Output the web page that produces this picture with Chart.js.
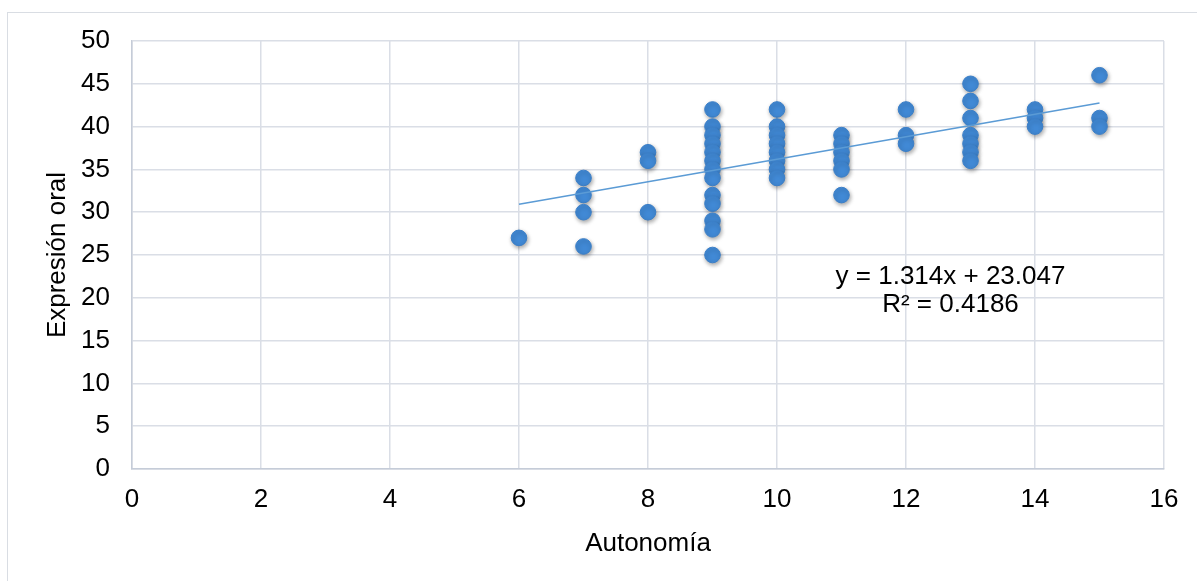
<!DOCTYPE html>
<html>
<head>
<meta charset="utf-8">
<script src="https://cdn.jsdelivr.net/npm/chart.js@4.4.1/dist/chart.umd.min.js"></script>
<style>
  html, body { margin: 0; padding: 0; background: #fff; }
  #wrap { position: relative; width: 1197px; height: 581px; overflow: hidden; }
  #frame { position: absolute; left: 7px; top: 12px; width: 1200px; height: 600px; border: 1px solid #d9dde3; }
  canvas { position: absolute; left: 0; top: 0; }
</style>
</head>
<body>
<div id="wrap">
  <div id="frame"></div>
  <canvas id="chart" width="1197" height="581"></canvas>
</div>
<script>
// Autonomía (x) vs Expresión oral (y)
const autonomia = [
  6,
  7, 7, 7, 7,
  8, 8, 8,
  9, 9, 9, 9, 9, 9, 9, 9, 9, 9, 9, 9, 9,
  10, 10, 10, 10, 10, 10, 10, 10,
  11, 11, 11, 11, 11, 11,
  12, 12, 12,
  13, 13, 13, 13, 13, 13, 13,
  14, 14, 14,
  15, 15, 15
];
const expresion = [
  27,
  34, 32, 30, 26,
  37, 36, 30,
  42, 40, 39, 38, 37, 36, 35, 34, 32, 31, 29, 28, 25,
  42, 40, 39, 38, 37, 36, 35, 34,
  39, 38, 37, 36, 35, 32,
  42, 39, 38,
  45, 43, 41, 39, 38, 37, 36,
  42, 41, 40,
  46, 41, 40
];

// linear trend line end points (x = 6 and x = 15)
const trendX = [6, 15];
const trendY = [30.93, 42.76];
const trendLabel = ['y = 1.314x + 23.047', 'R² = 0.4186'];

const xTicks = [0, 2, 4, 6, 8, 10, 12, 14, 16];
const yTicks = [0, 5, 10, 15, 20, 25, 30, 35, 40, 45, 50];

const FONT = 'Liberation Sans, Arial, sans-serif';

const points = autonomia.map((x, i) => ({ x: x, y: expresion[i] }));
const trend = trendX.map((x, i) => ({ x: x, y: trendY[i] }));

// soft drop shadow under the markers
const markerShadow = {
  id: 'markerShadow',
  beforeDatasetDraw(chart, args) {
    if (args.index !== 1) return;
    const ctx = chart.ctx;
    ctx.save();
    ctx.shadowColor = 'rgba(0,0,0,0.35)';
    ctx.shadowBlur = 4;
    ctx.shadowOffsetX = 1;
    ctx.shadowOffsetY = 2;
  },
  afterDatasetDraw(chart, args) {
    if (args.index !== 1) return;
    chart.ctx.restore();
  }
};

// equation label near the trend line
const eqLabel = {
  id: 'eqLabel',
  afterDatasetsDraw(chart) {
    const ctx = chart.ctx;
    const xs = chart.scales.x, ys = chart.scales.y;
    const cx = xs.getPixelForValue(12.69);
    const cy = ys.getPixelForValue(22.4);
    ctx.save();
    ctx.fillStyle = '#000';
    ctx.font = '26px ' + FONT;
    ctx.textAlign = 'center';
    ctx.textBaseline = 'middle';
    trendLabel.forEach((t, i) => ctx.fillText(t, cx, cy + i * 28));
    ctx.restore();
  }
};

new Chart(document.getElementById('chart'), {
  type: 'scatter',
  data: {
    datasets: [
      {
        type: 'line',
        label: 'Tendencia',
        data: trend,
        borderColor: '#5b9bd5',
        borderWidth: 1.6,
        pointRadius: 0,
        fill: false
      },
      {
        label: 'Expresión oral',
        data: points,
        backgroundColor: '#4189d5',
        borderColor: '#3b7fc8',
        borderWidth: 1,
        pointRadius: 7.8,
        pointHoverRadius: 7.8
      }
    ]
  },
  options: {
    responsive: false,
    animation: false,
    events: [],
    layout: { padding: { left: 0, top: 41, right: 33, bottom: 0 } },
    plugins: {
      legend: { display: false },
      tooltip: { enabled: false }
    },
    scales: {
      x: {
        type: 'linear',
        min: 0,
        max: 16,
        afterBuildTicks(scale) { scale.ticks = xTicks.map(v => ({ value: v })); },
        afterFit(scale) { scale.height = 581 - 469; },
        grid: { color: '#dadee6', lineWidth: 1.5, drawTicks: false },
        border: { color: '#c5ccd8', width: 1.5 },
        ticks: { color: '#000', padding: 15, font: { family: FONT, size: 26 } },
        title: {
          display: true,
          text: 'Autonomía',
          color: '#000',
          font: { family: FONT, size: 26 },
          padding: { top: 0, bottom: 22 }
        }
      },
      y: {
        min: 0,
        max: 50,
        afterBuildTicks(scale) { scale.ticks = yTicks.map(v => ({ value: v })); },
        afterFit(scale) { scale.width = 132; },
        grid: { color: '#dadee6', lineWidth: 1.5, drawTicks: false },
        border: { color: '#c5ccd8', width: 1.5 },
        ticks: { color: '#000', padding: 22, font: { family: FONT, size: 26 } },
        title: {
          display: true,
          text: 'Expresión oral',
          color: '#000',
          font: { family: FONT, size: 26 },
          padding: { top: 42, bottom: 0 }
        }
      }
    }
  },
  plugins: [markerShadow, eqLabel]
});
</script>
</body>
</html>
